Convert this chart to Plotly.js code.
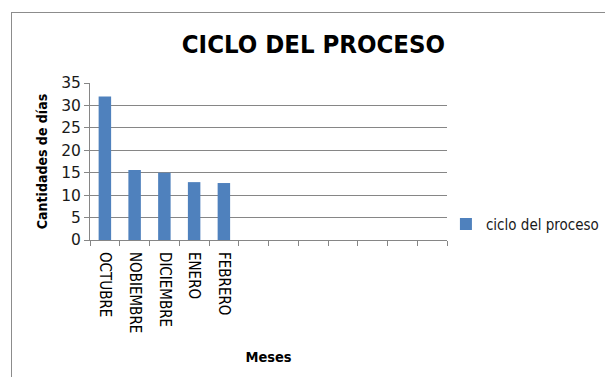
<!DOCTYPE html>
<html>
<head>
<meta charset="utf-8">
<script src="https://cdn.plot.ly/plotly-3.0.1.min.js"></script>
<style>
  html, body { margin: 0; padding: 0; background: #ffffff; overflow: hidden; }
  #frame { position: absolute; left: 11px; top: 12px; width: 700px; height: 500px;
           border: 1px solid #8c8c8c; box-sizing: border-box; }
  #chart { position: absolute; left: 0; top: 0; width: 605px; height: 377px; }
</style>
</head>
<body>
<div id="frame"></div>
<div id="chart"></div>
<script>
// Month categories (the remaining slots of the axis are left empty)
const months = ["OCTUBRE", "NOBIEMBRE", "DICIEMBRE", "ENERO", "FEBRERO"];
const emptySlots = [" ", "  ", "   ", "    ", "     ", "      ", "       "];
// Days per month of the process cycle
const days = [32, 15.6, 15, 12.9, 12.7];
const seriesName = "ciclo del proceso";
const yTicks = [0, 5, 10, 15, 20, 25, 30, 35];

const categories = months.concat(emptySlots);
const values = days.concat(emptySlots.map(() => null));

const FONT = "'DejaVu Sans Condensed', 'DejaVu Sans', sans-serif";
const GRID = "#868686";

const trace = {
  type: "bar",
  x: categories,
  y: values,
  name: seriesName,
  marker: { color: "#4F81BD" },
  hoverinfo: "skip"
};

const layout = {
  width: 605,
  height: 377,
  margin: { l: 90, r: 158, t: 83, b: 137, autoexpand: false },
  paper_bgcolor: "rgba(0,0,0,0)",
  plot_bgcolor: "rgba(0,0,0,0)",
  bargap: 0.58,
  showlegend: true,
  font: { family: FONT, color: "#1a1a1a" },
  title: {
    text: "<b>CICLO DEL PROCESO</b>",
    font: { family: FONT, size: 25.5, color: "#000000" },
    x: 0.518, xanchor: "center",
    y: 0.883, yanchor: "middle"
  },
  xaxis: {
    type: "category",
    categoryorder: "array",
    categoryarray: categories,
    tickson: "boundaries",
    ticks: "outside",
    ticklen: 5,
    tickcolor: GRID,
    tickangle: 90,
    ticklabelstandoff: 8,
    tickfont: { family: FONT, size: 15, color: "#000000" },
    showline: true,
    linecolor: GRID,
    linewidth: 1,
    showgrid: false,
    zeroline: false,
    title: {
      text: "<b>Meses</b>",
      font: { family: FONT, size: 14.5, color: "#000000" },
      standoff: 19
    },
    fixedrange: true
  },
  yaxis: {
    range: [0, 35],
    tickvals: yTicks,
    ticks: "outside",
    ticklen: 5,
    tickcolor: GRID,
    tickfont: { family: "'DejaVu Sans', sans-serif", size: 15.5, color: "#1a1a1a" },
    showline: true,
    linecolor: GRID,
    linewidth: 1,
    showgrid: true,
    gridcolor: GRID,
    gridwidth: 1,
    zeroline: false,
    title: {
      text: "<b>Cantidades de días</b>",
      font: { family: FONT, size: 14, color: "#000000" },
      standoff: 10
    },
    fixedrange: true
  },
  legend: {
    x: 0.997, xanchor: "left",
    y: 0.10, yanchor: "middle",
    font: { family: FONT, size: 15, color: "#1a1a1a" },
    itemwidth: 30,
    bgcolor: "rgba(0,0,0,0)"
  }
};

Plotly.newPlot("chart", [trace], layout, { displayModeBar: false, staticPlot: true });
</script>
</body>
</html>
